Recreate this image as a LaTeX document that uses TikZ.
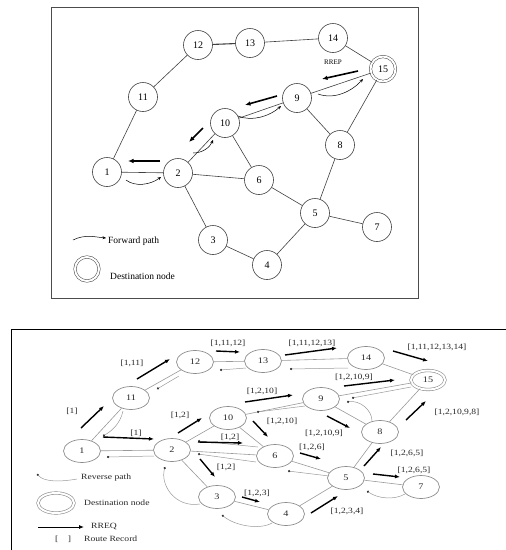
\documentclass[tikz,border=0pt]{standalone}
\usepackage{fontspec}
\setmainfont{Liberation Serif}
\usetikzlibrary{shapes.geometric,arrows.meta}
\newcommand{\hs}[1]{\scalebox{1.2}[1]{#1}}
\begin{document}
\begin{tikzpicture}[x=1pt,y=-1pt,
 tnode/.style={circle,draw=black!75,line width=0.6pt,minimum size=29pt,inner sep=0pt,font=\fontsize{10}{10}\selectfont},
 tdest/.style={tnode,double=white,double distance=2pt,minimum size=25pt,line width=0.5pt},
 tedge/.style={draw=black!75,line width=0.6pt},
 rrep/.style={-{Latex[length=5.5pt,width=4.5pt]},line width=1.6pt},
 fwd/.style={-{Stealth[length=3.5pt,width=3pt]},line width=0.5pt},
 txt/.style={inner sep=0pt,font=\fontsize{9.5}{10}\selectfont},
 bnode/.style={ellipse,draw=black!45,line width=0.7pt,minimum width=37pt,minimum height=23pt,inner sep=0pt,font=\fontsize{8.5}{9}\selectfont,text=black!85},
 bdest/.style={bnode,double=white,double distance=2pt,minimum width=34pt,minimum height=19pt,line width=0.6pt},
 bedge/.style={draw=black!40,line width=0.6pt},
 rreq/.style={-{Latex[length=5pt,width=4pt]},line width=1.4pt},
 rev/.style={draw=black!40,line width=0.5pt,-{Circle[length=2.2pt,color=black!80]}},
 blab/.style={inner sep=0pt,font=\fontsize{8}{8}\selectfont,text=black!85},
 frame/.style={line width=0.9pt}
]
\useasboundingbox (0,0) rectangle (506,550);

% ================= TOP DIAGRAM =================
\draw[draw=black!70,line width=0.9pt] (51,7) rectangle (418,298);

\node[tnode] (t1) at (107,172) {1};
\node[tnode] (t2) at (178,173) {2};
\node[tnode] (t3) at (213,240) {3};
\node[tnode] (t4) at (267,265) {4};
\node[tnode] (t5) at (315,213) {5};
\node[tnode] (t6) at (259,180) {6};
\node[tnode] (t7) at (377,227) {7};
\node[tnode] (t8) at (340,145) {8};
\node[tnode] (t9) at (297,98) {9};
\node[tnode] (t10) at (225,123) {10};
\node[tnode] (t11) at (143,97) {11};
\node[tnode] (t12) at (198,45) {12};
\node[tnode] (t13) at (250,43) {13};
\node[tnode] (t14) at (333,38) {14};
\node[tdest] (t15) at (383,69) {15};

\foreach \a/\b in {t1/t11,t11/t12,t13/t14,t14/t15,t15/t8,t9/t8,t8/t5,t5/t7,t5/t4,t4/t3,t3/t2,t2/t6,t6/t5,t6/t10,t10/t9,t9/t15,t2/t10,t1/t2}
  \draw[tedge] (\a) -- (\b);
\draw[tedge,line width=1.1pt] (t12) -- (t13);

% RREP arrows
\coordinate (ra1) at (160,161); \coordinate (ra2) at (128,161);
\coordinate (rb1) at (203,128); \coordinate (rb2) at (189,142);
\coordinate (rc1) at (277,96);  \coordinate (rc2) at (245,105);
\coordinate (rd1) at (358,71);  \coordinate (rd2) at (322,79);
\draw[rrep] (ra1) -- (ra2);
\draw[rrep] (rb1) -- (rb2);
\draw[rrep] (rc1) -- (rc2);
\draw[rrep] (rd1) -- (rd2);
\node[inner sep=0pt,font=\fontsize{7}{7}\selectfont] (rrepl) at (333,62) {RREP};

% forward path curves
\coordinate (fa1) at (126,180); \coordinate (fa2) at (161,177);
\coordinate (fb1) at (193,153); \coordinate (fb2) at (213,140);
\coordinate (fc1) at (238,116); \coordinate (fc2) at (281,106);
\coordinate (fd1) at (318,94);  \coordinate (fd2) at (363,79);
\draw[fwd] (fa1) .. controls (135,187) and (150,185) .. (fa2);
\draw[fwd] (fb1) .. controls (203,153) and (210,147) .. (fb2);
\draw[fwd] (fc1) .. controls (252,122) and (270,116) .. (fc2);
\draw[fwd] (fd1) .. controls (335,100) and (352,91) .. (fd2);

% top legend
\coordinate (lf1) at (73,240); \coordinate (lf2) at (106,238);
\draw[fwd] (lf1) .. controls (85,234) and (95,237) .. (lf2);
\node[txt,anchor=west] (lfl) at (108,241) {Forward path};
\node[tdest,minimum size=24pt] (ld) at (87,269) {};
\node[txt,anchor=west] (ldl) at (110,276) {Destination node};

% ================= BOTTOM DIAGRAM =================
\draw[frame] (11,550) -- (11,329) -- (506,329);

\node[bnode] (b1) at (82,451) {\hs{1}};
\node[bnode] (b2) at (172,450) {\hs{2}};
\node[bnode] (b3) at (217,497) {\hs{3}};
\node[bnode] (b4) at (286,514) {\hs{4}};
\node[bnode] (b5) at (346,478) {\hs{5}};
\node[bnode] (b6) at (275,456) {\hs{6}};
\node[bnode] (b7) at (421,487) {\hs{7}};
\node[bnode] (b8) at (380,432) {\hs{8}};
\node[bnode] (b9) at (321,399) {\hs{9}};
\node[bnode] (b10) at (228,418) {\hs{10}};
\node[bnode] (b11) at (131,398) {\hs{11}};
\node[bnode] (b12) at (195,362) {\hs{12}};
\node[bnode] (b13) at (263,361) {\hs{13}};
\node[bnode] (b14) at (366,358) {\hs{14}};
\node[bdest] (b15) at (428,380) {\hs{15}};

\foreach \a/\b in {b1/b11,b11/b12,b12/b13,b13/b14,b14/b15,b1/b2,b2/b10,b2/b6,b2/b3,b3/b4,b4/b5,b5/b6,b5/b7,b5/b8,b8/b15,b9/b8,b10/b6,b10/b9,b9/b15}
  \draw[bedge] (\a) -- (\b);

% reverse paths
\coordinate (r1a) at (123,411); \coordinate (r1b) at (103,436);
\coordinate (r2a) at (179,376); \coordinate (r2b) at (157,389);
\coordinate (r3a) at (246,368); \coordinate (r3b) at (220,370);
\coordinate (r4a) at (348,368); \coordinate (r4b) at (290,369);
\coordinate (r5a) at (411,387); \coordinate (r5b) at (352,398);
\coordinate (r6a) at (372,421); \coordinate (r6b) at (347,402);
\coordinate (r7a) at (305,406); \coordinate (r7b) at (257,412);
\coordinate (r8a) at (258,447); \coordinate (r8b) at (198,441);
\coordinate (r9a) at (154,456); \coordinate (r9b) at (107,457);
\coordinate (r10a) at (200,504); \coordinate (r10b) at (165,467);
\coordinate (r11a) at (272,523); \coordinate (r11b) at (222,515);
\coordinate (r12a) at (329,476); \coordinate (r12b) at (288,471);
\coordinate (r13a) at (405,494); \coordinate (r13b) at (367,491);
\coordinate (r14a) at (256,462); \coordinate (r14b) at (198,454);
\draw[rev] (r1a) .. controls (120,425) and (110,432) .. (r1b);
\draw[rev] (r2a) -- (r2b);
\draw[rev] (r3a) -- (r3b);
\draw[rev] (r4a) -- (r4b);
\draw[rev] (r5a) -- (r5b);
\draw[rev] (r6a) .. controls (372,410) and (360,400) .. (r6b);
\draw[rev] (r7a) -- (r7b);
\draw[rev] (r8a) -- (r8b);
\draw[rev] (r9a) -- (r9b);
\draw[rev] (r10a) .. controls (175,508) and (160,485) .. (r10b);
\draw[rev] (r11a) .. controls (260,530) and (235,526) .. (r11b);
\draw[rev] (r12a) -- (r12b);
\draw[rev] (r13a) .. controls (395,500) and (378,499) .. (r13b);
\draw[rev] (r14a) -- (r14b);

% RREQ arrows with route records
\foreach \n/\sx/\sy/\ex/\ey/\lx/\ly/\t in {
 q1/81/428/104/406/72/411/{[1]},
 q2/137/379/170/359/132/363/{[1,11]},
 q3/216/351/240/352/228/343/{[1,11,12]},
 q4/285/355/337/348/312/343/{[1,11,12,13]},
 q5/393/351/428/361/437/347/{[1,11,12,13,14]},
 q6/103/437/154/439/136/433/{[1]},
 q7/178/433/202/418/180/415/{[1,2]},
 q8/198/442/243/443/230/437/{[1,2]},
 q9/200/459/215/477/226/467/{[1,2]},
 q10/245/402/293/395/262/391/{[1,2,10]},
 q11/253/421/268/437/282/421/{[1,2,10]},
 q12/344/386/395/380/354/377/{[1,2,10,9]},
 q13/327/416/350/428/324/433/{[1,2,10,9]},
 q14/406/420/426/401/457/412/{[1,2,10,9,8]},
 q15/300/453/321/459/312/447/{[1,2,6]},
 q16/364/466/381/447/407/453/{[1,2,6,5]},
 q17/373/474/400/477/414/470/{[1,2,6,5]},
 q18/242/497/260/502/257/493/{[1,2,3]},
 q19/311/513/338/496/347/511/{[1,2,3,4]}}
{
  \coordinate (\n s) at (\sx,\sy);
  \coordinate (\n e) at (\ex,\ey);
  \draw[rreq] (\n s) -- (\n e);
  \node[blab] (\n l) at (\lx,\ly) {\hs{\t}};
}

% bottom legend
\coordinate (lr1) at (77,479); \coordinate (lr2) at (37,474);
\draw[rev] (lr1) .. controls (60,482) and (44,482) .. (lr2);
\node[blab,anchor=west] (lrl) at (81,478) {\hs{Reverse path}};
\node[bdest,minimum width=36pt,minimum height=20pt] (lbd) at (56,503) {};
\node[blab,anchor=west] (lbdl) at (84,503) {\hs{Destination node}};
\coordinate (lq1) at (38,527); \coordinate (lq2) at (84,527);
\draw[-{Latex[length=5pt,width=4pt]},line width=0.9pt] (lq1) -- (lq2);
\node[blab,anchor=west] (lql) at (91,526) {\hs{RREQ}};
\node[blab] (lrr) at (63,539) {\hs{[\quad]}};
\node[blab,anchor=west] (lrrl) at (84,539) {\hs{Route Record}};
\end{tikzpicture}
\end{document}
